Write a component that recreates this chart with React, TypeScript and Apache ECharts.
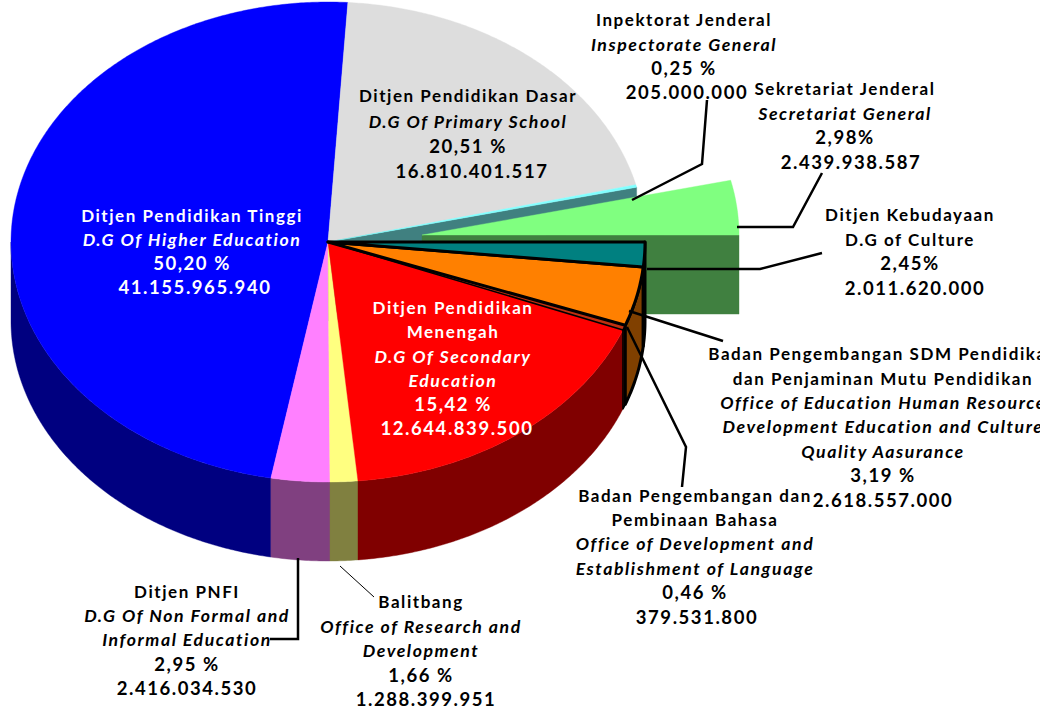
import React, { useEffect, useRef } from "react";
import * as echarts from "echarts";

// Shares in percent, clockwise from the grey slice.
const sliceNames = [
  "Ditjen Pendidikan Dasar",
  "Inspektorat Jenderal",
  "Sekretariat Jenderal",
  "Ditjen Kebudayaan",
  "Badan Pengembangan SDM",
  "Badan Pengembangan dan Pembinaan Bahasa",
  "Ditjen Pendidikan Menengah",
  "Balitbang",
  "Ditjen PNFI",
  "Ditjen Pendidikan Tinggi",
];
const sliceShares = [20.51, 0.25, 2.98, 2.45, 3.19, 0.46, 15.42, 1.66, 2.95, 50.2];
const topColors = ["#dddddd", "#80ffff", "#80ff80", "#008080", "#ff8000", "#c03010", "#ff0000", "#ffff80", "#ff80ff", "#0000ff"];
const wallColors = ["#6e6e6e", "#408080", "#408040", "#004040", "#804000", "#601808", "#800000", "#808040", "#804080", "#000080"];
const outlineWidths = [0, 0, 0, 3, 3, 1.6, 0, 0, 0, 0];
const drawOrder = [9, 0, 1, 2, 8, 7, 6, 5, 4, 3];

const labelDasar = ["Ditjen Pendidikan Dasar", "D.G Of Primary School", "20,51 %", "16.810.401.517"];
const labelTinggi = ["Ditjen Pendidikan Tinggi", "D.G Of Higher Education", "50,20 %", "41.155.965.940"];
const labelMenengah = ["Ditjen Pendidikan", "Menengah", "D.G Of Secondary", "Education", "15,42 %", "12.644.839.500"];
const labelInspektorat = ["Inpektorat Jenderal", "Inspectorate General", "0,25 %", "205.000.000"];
const labelSekjen = ["Sekretariat Jenderal", "Secretariat General", "2,98%", "2.439.938.587"];
const labelBudaya = ["Ditjen Kebudayaan", "D.G of Culture", "2,45%", "2.011.620.000"];
const labelSdm = [
  "Badan Pengembangan SDM Pendidikan",
  "dan Penjaminan Mutu Pendidikan",
  "Office of Education Human Resource",
  "Development Education and Culture",
  "Quality Aasurance",
  "3,19 %",
  "2.618.557.000",
];
const labelBahasa = ["Badan Pengembangan dan", "Pembinaan Bahasa", "Office of Development and", "Establishment of Language", "0,46 %", "379.531.800"];
const labelPnfi = ["Ditjen PNFI", "D.G Of Non Formal and", "Informal Education", "2,95 %", "2.416.034.530"];
const labelBalitbang = ["Balitbang", "Office of Research and", "Development", "1,66 %", "1.288.399.951"];

// Tilted-pie projection
const CX = 328, CY = 242, RX = 317, RY = 240, DEPTH = 79;
const EXPLODED = 2, EX = 94, EY = -7;
const FONT = "Lato";
const rad = (d: number) => (d * Math.PI) / 180;
const total = sliceShares.reduce((a, b) => a + b, 0);
// Perspective warp of the value angle into the angle on the drawn ellipse,
// with the small per-edge drift (degrees) of the original's projection.
const warp = (v: number) => v + 7.3 - 3.7 * Math.cos(rad(v)) - 3 * Math.sin(rad(v));
const edgeDrift = [0, -1, -1.3, 0.6, -2.8, -0.8, -1.4, 1.8, 0.5, 0, 0];
const edges: number[] = [];
sliceShares.reduce((acc, v, i) => {
  edges.push(warp((acc / total) * 360) + edgeDrift[i]);
  return acc + v;
}, 0);
edges.push(warp(360));

const pt = (t: number, dx = 0, dy = 0): number[] => [CX + dx + RX * Math.sin(rad(t)), CY + dy - RY * Math.cos(rad(t))];
const arc = (a: number, b: number, dx = 0, dy = 0) => {
  const n = Math.max(2, Math.ceil(Math.abs(b - a) * 2));
  return Array.from({ length: n + 1 }, (_, i) => pt(a + ((b - a) * i) / n, dx, dy));
};

function renderSlice(params: any) {
  const i = drawOrder[params.dataIndex];
  const a = edges[i], b = edges[i + 1];
  const ex = i === EXPLODED ? EX : 0, ey = i === EXPLODED ? EY : 0;
  const apex = [CX + ex, CY + ey];
  const sw = outlineWidths[i];
  const children: any[] = [];
  const wallStyle = { fill: wallColors[i], stroke: sw ? "#000" : wallColors[i], lineWidth: sw || 0.4, lineJoin: "round" };
  // rim: part of the outer surface that faces the viewer
  const ra = Math.max(a, 90), rb = Math.min(b, 270);
  if (rb > ra && i !== EXPLODED) {
    children.push({
      type: "polygon",
      shape: { points: [...arc(ra, rb), ...arc(rb, ra, 0, DEPTH)] },
      style: wallStyle,
    });
  }
  // cut faces laid open by the exploded slice
  if (i === EXPLODED - 1) {
    const p = pt(b);
    children.push({
      type: "polygon",
      shape: { points: [[CX, CY], p, [p[0], p[1] + DEPTH], [CX, CY + DEPTH]] },
      style: wallStyle,
    });
  }
  if (i === EXPLODED) {
    const p = pt(b, ex, ey);
    children.push({
      type: "polygon",
      shape: { points: [apex, p, [p[0], p[1] + DEPTH], [apex[0], apex[1] + DEPTH]] },
      style: wallStyle,
    });
  }
  children.push({
    type: "polygon",
    shape: { points: [apex, ...arc(a, b, ex, ey)] },
    style: { fill: topColors[i], stroke: sw ? "#000" : topColors[i], lineWidth: sw || 0.4, lineJoin: "round" },
  });
  return { type: "group", children };
}

const textBlock = (lines: string[], x: number, ys: number[], fill: string, italicLines: number[], amountDx = 0) =>
  lines.map((line, k) => {
    const italic = italicLines.includes(k);
    const numeric = /^[\d.,% ]+$/.test(line);
    const amount = /^[\d.]+$/.test(line);
    const size = numeric ? 18.5 : italic ? 17.7 : 17;
    return {
      type: "text",
      x: x + (amount ? amountDx : 0),
      y: ys[k] - 1,
      z: 20,
      style: {
        text: line,
        fill,
        font: `${italic ? "italic " : ""}bold ${size}px ${FONT}`,
        textAlign: "center",
        textVerticalAlign: "middle",
      },
    };
  });

const leader = (points: number[][], lineWidth = 2.5) => ({
  type: "polyline",
  z: 21,
  shape: { points },
  style: { fill: "none", stroke: "#000", lineWidth },
});

export default function App() {
  const ref = useRef<HTMLDivElement>(null);
  useEffect(() => {
    const chart = echarts.init(ref.current!, null, { renderer: "svg" });
    chart.setOption({
      animation: false,
      backgroundColor: "#fff",
      series: [
        {
          type: "custom",
          coordinateSystem: "none",
          silent: true,
          clip: false,
          renderItem: renderSlice,
          data: drawOrder.map((i) => ({ name: sliceNames[i], value: sliceShares[i] })),
        },
      ],
      graphic: [
        ...textBlock(labelDasar, 468, [96, 122, 147, 172], "#000", [1], 4),
        ...textBlock(labelTinggi, 192, [216, 240, 264, 288], "#fff", [1], 3),
        ...textBlock(labelMenengah, 453, [308, 332, 357, 381, 405, 429], "#fff", [2, 3], 4),
        ...textBlock(labelInspektorat, 684, [20, 45, 69, 93], "#000", [1], 3),
        ...textBlock(labelSekjen, 845, [89, 114, 138, 163], "#000", [1], 6),
        ...textBlock(labelBudaya, 910, [215, 240, 264, 289], "#000", [], 5),
        ...textBlock(labelSdm, 883, [354, 379, 403, 427, 452, 476, 501], "#000", [2, 3, 4]),
        ...textBlock(labelBahasa, 695, [496, 520, 544, 569, 593, 618], "#000", [2, 3], 2),
        ...textBlock(labelPnfi, 187, [592, 616, 640, 665, 689], "#000", [1, 2]),
        ...textBlock(labelBalitbang, 421, [602, 627, 651, 676, 700], "#000", [1, 2], 5),
        leader([[632, 200], [702, 164], [707, 100]]),
        leader([[737, 227], [793, 227], [822, 173]]),
        leader([[647, 269], [760, 269], [822, 253]]),
        leader([[629, 311], [723, 341]]),
        leader([[627, 327], [686, 447], [682, 487]]),
        leader([[298, 558], [298, 639], [270, 639]]),
        leader([[340, 566], [374, 597]], 1),
      ],
    });
    return () => chart.dispose();
  }, []);
  return (
    <div
      ref={ref}
      style={{ position: "absolute", left: 0, top: 0, width: 1040, height: 709, letterSpacing: "1.55px", overflow: "hidden" }}
    />
  );
}
